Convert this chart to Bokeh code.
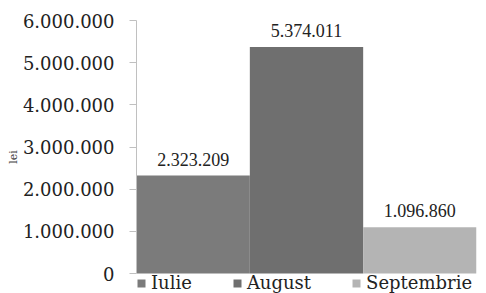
from bokeh.plotting import figure
from bokeh.models import ColumnDataSource, Range1d, FactorRange, CustomJSTickFormatter, Legend, LegendItem, LabelSet
from bokeh.embed import file_html
from bokeh.resources import INLINE

months = ["Iulie", "August", "Septembrie"]
values = [2323209, 5374011, 1096860]
colors = ["#7b7b7b", "#6f6f6f", "#b4b4b4"]
y_ticks = [0, 1000000, 2000000, 3000000, 4000000, 5000000, 6000000]
y_max = 6000000

labels = [f"{v:,}".replace(",", ".") for v in values]
src = ColumnDataSource(dict(m=months, v=values, c=colors, lab=labels))

FONT = "DejaVu Serif"
W, H = 486, 293
TOP, LEFT, RIGHT = 20, 136, 10
AXIS_PX = 253          # pixel height of the 0..6M axis
LEGEND_PX = H - TOP - AXIS_PX

p = figure(width=W, height=H, x_range=FactorRange(*months, range_padding=0),
           y_range=Range1d(-y_max * LEGEND_PX / AXIS_PX, y_max),
           output_backend="svg", toolbar_location=None,
           min_border_left=LEFT, min_border_right=RIGHT, min_border_top=TOP, min_border_bottom=0)
p.outline_line_color = None
p.grid.visible = False
p.xaxis.visible = False
p.background_fill_color = "white"

r = p.vbar(x="m", top="v", width=1.0, fill_color="c", line_color=None, source=src)

p.yaxis.ticker = y_ticks
p.yaxis.bounds = (0, y_max)
p.yaxis.formatter = CustomJSTickFormatter(code="return tick.toFixed(0).replace(/\\B(?=(\\d{3})+(?!\\d))/g, '.');")
p.yaxis.major_label_text_font = FONT
p.yaxis.major_label_text_font_size = "18px"
p.yaxis.major_label_text_color = "#222222"
p.yaxis.major_label_standoff = 15
p.yaxis.axis_line_color = "#c0c0c0"
p.yaxis.major_tick_line_color = "#c0c0c0"
p.yaxis.major_tick_out = 7
p.yaxis.major_tick_in = 0
p.yaxis.minor_tick_line_color = None
p.yaxis.axis_label = "lei"
p.yaxis.axis_label_text_font = FONT
p.yaxis.axis_label_text_font_style = "normal"
p.yaxis.axis_label_text_font_size = "11px"
p.yaxis.axis_label_standoff = 0

lbl = LabelSet(x="m", y="v", text="lab", source=src, text_align="center", text_baseline="bottom",
               y_offset=10, text_font=FONT, text_font_size="18px", text_color="#222222")
p.add_layout(lbl)

items = [LegendItem(label=months[i], renderers=[r], index=i) for i in range(len(months))]
leg = Legend(items=items, orientation="horizontal", location=(0, 0), margin=0, padding=0,
             spacing=40, label_standoff=5, glyph_width=10, glyph_height=10, label_height=16,
             label_text_font=FONT, label_text_font_size="18px", label_text_color="#222222",
             border_line_color=None, background_fill_alpha=0)
p.add_layout(leg)

open("out.html", "w").write(file_html(p, INLINE))
